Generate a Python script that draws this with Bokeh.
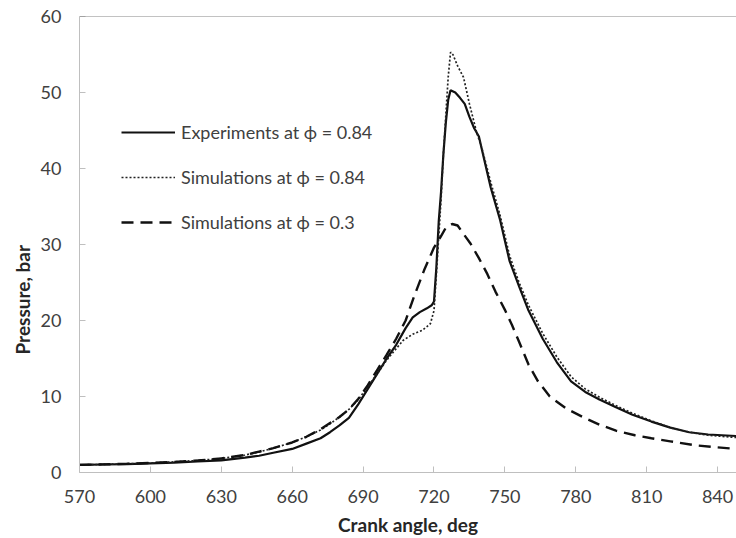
from bokeh.plotting import figure
from bokeh.models import (FixedTicker, Legend, LegendItem, Span, Title,
                          Range1d)
from bokeh.embed import file_html
from bokeh.resources import INLINE

# Crank angle (deg) and cylinder pressure (bar)
exp_angle = [570, 580, 590, 600, 610, 620, 630, 640, 646, 652, 660, 666, 672,
             676, 680, 684, 688, 692, 696, 700, 704, 708, 711, 714, 717, 719,
             720, 721, 722, 723, 724, 725, 726, 727, 729, 731, 733, 735, 737,
             739, 741, 744, 748, 752, 756, 760, 766, 772, 778, 784, 790, 797,
             804, 812, 820, 828, 836, 848]
exp_p = [1.0, 1.05, 1.1, 1.2, 1.3, 1.45, 1.6, 1.95, 2.2, 2.6, 3.1, 3.8, 4.5,
         5.3, 6.2, 7.2, 9.0, 11.0, 13.0, 15.0, 16.8, 19.0, 20.4, 21.1, 21.6,
         22.0, 22.5, 27.0, 33.0, 37.0, 42.0, 46.0, 49.0, 50.3, 50.0, 49.3,
         48.5, 46.8, 45.3, 44.2, 41.5, 37.5, 33.2, 27.8, 24.5, 21.3, 17.6,
         14.5, 12.0, 10.6, 9.6, 8.6, 7.6, 6.7, 5.9, 5.3, 5.0, 4.8]

sim084_angle = [570, 580, 590, 600, 610, 620, 630, 640, 646, 652, 660, 666,
                672, 676, 680, 684, 688, 692, 696, 700, 704, 707, 711, 715,
                717, 718.5, 720, 721, 722, 723, 724, 725, 726, 727, 728, 730,
                732.5, 735, 738, 740.5, 744, 748, 752, 756, 760, 766, 772,
                778, 784, 790, 797, 804, 812, 820, 828, 836, 848]
sim084_p = [1.0, 1.07, 1.15, 1.25, 1.4, 1.58, 1.85, 2.3, 2.7, 3.2, 3.95, 4.7,
            5.6, 6.4, 7.3, 8.3, 9.6, 11.3, 13.0, 14.8, 16.3, 17.4, 18.2, 18.7,
            19.2, 19.6, 21.3, 26.0, 31.0, 36.0, 42.0, 47.0, 52.0, 55.3, 55.0,
            53.5, 52.0, 48.5, 44.8, 42.4, 38.2, 33.8, 28.5, 25.0, 22.0, 18.3,
            15.2, 12.6, 11.0, 9.9, 8.8, 7.8, 6.8, 5.9, 5.3, 4.9, 4.6]

sim03_angle = [570, 580, 590, 600, 610, 620, 630, 640, 646, 652, 660, 666,
               672, 676, 680, 684, 688, 692, 696, 700, 704, 708, 711.5, 715.8,
               720, 722.8, 725, 727.7, 730, 732, 735.5, 739, 742.6, 746, 750,
               753, 756, 760, 764, 769, 776, 783, 790, 797, 805, 812, 820,
               830, 840, 848]
sim03_p = [1.0, 1.07, 1.15, 1.25, 1.4, 1.58, 1.85, 2.3, 2.75, 3.2, 3.95, 4.7,
           5.7, 6.5, 7.3, 8.3, 9.7, 11.5, 13.5, 15.5, 17.6, 20.0, 23.1, 26.6,
           29.6, 31.0, 32.2, 32.7, 32.5, 31.6, 30.1, 28.2, 26.1, 23.8, 21.4,
           19.4, 17.2, 14.2, 12.0, 10.0, 8.4, 7.3, 6.3, 5.5, 4.9, 4.5, 4.1,
           3.6, 3.3, 3.1]

x_ticks = [570, 600, 630, 660, 690, 720, 750, 780, 810, 840]
y_ticks = [0, 10, 20, 30, 40, 50, 60]

FONT = "Lato"
TICK_COLOR = "#404040"
AXIS_GRAY = "#bfbfbf"

p = figure(width=736, height=538, output_backend="svg", toolbar_location=None,
           x_range=Range1d(570, 848), y_range=Range1d(0, 60),
           min_border_left=79, min_border_right=0, min_border_top=16,
           min_border_bottom=66)
p.outline_line_color = None
p.grid.grid_line_color = None
p.background_fill_color = "white"
p.border_fill_color = "white"

r_exp = p.line(exp_angle, exp_p, line_color="#111111", line_width=2.2)
r_s084 = p.line(sim084_angle, sim084_p, line_color="#222222", line_width=1.7,
                line_dash="2 2")
r_s03 = p.line(sim03_angle, sim03_p, line_color="#111111", line_width=2.4,
               line_dash="12 7")

# top border of the plot area
p.add_layout(Span(location=60, dimension="width", line_color="#868686",
                  line_width=1.2))

for ax in (p.xaxis[0], p.yaxis[0]):
    ax.axis_line_color = AXIS_GRAY
    ax.major_tick_line_color = AXIS_GRAY
    ax.major_tick_in = 6
    ax.major_tick_out = 0
    ax.minor_tick_line_color = None
    ax.major_label_text_font = FONT
    ax.major_label_text_font_size = "18px"
    ax.major_label_text_color = TICK_COLOR

p.xaxis.ticker = FixedTicker(ticks=x_ticks)
p.yaxis.ticker = FixedTicker(ticks=y_ticks)
p.xaxis.major_label_standoff = 17
p.yaxis.major_label_standoff = 18

p.xaxis.axis_label = "Crank angle, deg"
p.xaxis.axis_label_text_font = FONT
p.xaxis.axis_label_text_font_style = "bold"
p.xaxis.axis_label_text_font_size = "19px"
p.xaxis.axis_label_text_color = "#262626"
p.xaxis.axis_label_standoff = 7

# vertical axis title
p.add_layout(Title(text="Pressure, bar", align="left", offset=118,
                   text_font=FONT, text_font_style="bold",
                   text_font_size="19px", text_color="#262626",
                   standoff=8), "left")

legend = Legend(items=[
    LegendItem(label="Experiments at \u03d5 = 0.84", renderers=[r_exp]),
    LegendItem(label="Simulations at \u03d5 = 0.84", renderers=[r_s084]),
    LegendItem(label="Simulations at \u03d5 = 0.3", renderers=[r_s03]),
], location=(42, 239))
legend.border_line_color = None
legend.background_fill_alpha = 0
legend.padding = 0
legend.margin = 0
legend.spacing = 23
legend.glyph_width = 54
legend.glyph_height = 20
legend.label_height = 20
legend.label_standoff = 6
legend.label_text_font = FONT
legend.label_text_font_size = "18px"
legend.label_text_color = TICK_COLOR
p.add_layout(legend)

open("out.html", "w").write(file_html(p, INLINE))
